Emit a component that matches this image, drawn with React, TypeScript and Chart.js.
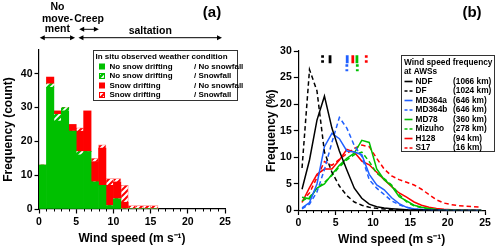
import React, { useEffect, useRef } from 'react';
import { Chart, registerables } from 'chart.js';

Chart.register(...registerables);

const FONT = '"Liberation Sans", Arial, Helvetica, sans-serif';
const GREEN = '#00c000';
const RED = '#ff0000';
const BLUE = '#2060ff';
const BLACK = '#000000';

// ---------- Panel (a): histogram of wind speed (count) ----------
const binCenters = [0.5, 1.5, 2.5, 3.5, 4.5, 5.5, 6.5, 7.5, 8.5, 9.5, 10.5, 11.5, 12.5, 13.5, 14.5, 15.5];
const noDriftNoSnow = [13, 36, 26, 29, 23, 16, 17, 8, 7, 1, 3, 0, 0, 0, 0, 0];
const noDriftSnow = [0, 1, 2, 1, 0, 1, 0, 0, 0, 0, 0, 0, 0, 0, 0, 0];
const driftNoSnow = [0, 2, 1, 0, 2, 6, 12, 6, 11, 6, 5, 2, 0, 0, 0, 0];
const driftSnow = [0, 0, 0, 0, 0, 1, 0, 1, 1, 2, 1, 5, 1, 1, 1, 1];
const histLegendTitle = 'In situ observed weather condition';
const histLegendLeft = ['No snow drifting', 'No snow drifting', 'Snow drifting', 'Snow drifting'];
const histLegendRight = ['/ No snowfall', '/ Snowfall', '/ No snowfall', '/ Snowfall'];
const regimeLabels = [['No', 'move-', 'ment'], ['Creep'], ['saltation']];
const regimeFrom = [0.1, 5.4, 5.3];
const regimeTo = [4.85, 8.05, 24.6];

// ---------- Panel (b): wind speed frequency at AWSs (%) ----------
const windSpeeds = [0.5, 1.5, 2.5, 3.5, 4.5, 5.5, 6.5, 7.5, 8.5, 9.5, 10.5, 11.5, 12.5, 13.5, 14.5, 15.5, 16.5, 17.5, 18.5, 19.5, 20.5, 21.5, 22.5, 23.5, 24.5];
const freqNDF = [4, 9.5, 17, 21.5, 15.5, 11.2, 7.6, 4.2, 2.3, 1.2, 0.7, 0.45, 0.35, 0.25, 0.15, 0.1, 0.1, 0.05, 0.05, 0, 0, 0, 0, 0, 0];
const freqDF = [8, 26.5, 22.5, 11, 7.2, 4.6, 2.8, 1.6, 1.0, 0.6, 0.4, 0.3, 0.2, 0.15, 0.1, 0.05, 0.05, 0, 0, 0, 0, 0, 0, 0, 0];
const freqMD364a = [0.5, 1.5, 5, 12, 14.5, 13.5, 11.2, 11, 10.5, 6.8, 4.8, 3.9, 2.4, 1.3, 0.6, 0.3, 0.2, 0.1, 0.05, 0.05, 0, 0, 0, 0, 0];
const freqMD364b = [0.3, 1.2, 3.5, 7.7, 12.8, 17.5, 15.5, 12.2, 10.2, 5.8, 4.2, 3.0, 1.8, 1.1, 0.6, 0.3, 0.2, 0.1, 0.05, 0, 0, 0, 0, 0, 0];
const freqMD78 = [2.5, 2.2, 4.2, 5, 6.8, 8.5, 9.8, 10.8, 13.2, 12.8, 7.8, 5.8, 4.6, 2.6, 1.8, 1.0, 0.6, 0.4, 0.2, 0.1, 0.05, 0.05, 0, 0, 0];
const freqMizuho = [1.8, 2.5, 4.2, 5.3, 6.6, 8.2, 9.5, 10.5, 11, 9.2, 7, 6, 4.8, 3, 1.6, 0.9, 0.5, 0.3, 0.15, 0.1, 0.05, 0, 0, 0, 0];
const freqH128 = [1.5, 4.3, 6.8, 7.8, 7.8, 9.5, 11.5, 11, 9.3, 8.6, 7.2, 5.8, 4.5, 3.3, 2.5, 1.6, 1.0, 0.6, 0.4, 0.25, 0.15, 0.1, 0.05, 0.05, 0];
const freqS17 = [1.7, 3.3, 6.2, 9.2, 8.5, 9.6, 10.7, 11.7, 12.3, 12, 9.8, 7.8, 6.5, 5.8, 5.3, 4.8, 4, 3, 2, 1.4, 1.1, 0.9, 0.8, 0.7, 0.6];
const stationNames = ['NDF', 'DF', 'MD364a', 'MD364b', 'MD78', 'Mizuho', 'H128', 'S17'];
const stationDistances = ['(1066 km)', '(1024 km)', '(646 km)', '(646 km)', '(360 km)', '(278 km)', '(94 km)', '(16 km)'];
const stationColors = [BLACK, BLACK, BLUE, BLUE, GREEN, GREEN, RED, RED];
const stationDashed = [false, true, false, true, false, true, false, true];
const stationMeans = [4.25, 3.25, 6.55, 6.5, 7.85, 7.9, 7.3, 9.1];
const markerRow = [0, 0, 0, 1, 0, 1, 0, 0];
const markerRowTop = [29.2, 27.5];
const markerRowBottom = [27.7, 26.2];
const windLegendTitle = ['Wind speed frequency', 'at AWSs'];

function makeHatch(bg: string, fg: string, lw: number) {
  const c = document.createElement('canvas');
  c.width = 6;
  c.height = 6;
  const g = c.getContext('2d') as CanvasRenderingContext2D;
  g.fillStyle = bg;
  g.fillRect(0, 0, 6, 6);
  g.strokeStyle = fg;
  g.lineWidth = lw;
  g.beginPath();
  g.moveTo(-1, 7); g.lineTo(7, -1);
  g.moveTo(-1, 1); g.lineTo(1, -1);
  g.moveTo(5, 7); g.lineTo(7, 5);
  g.stroke();
  return g.createPattern(c, 'repeat') as CanvasPattern;
}

function drawArrow(ctx: CanvasRenderingContext2D, x1: number, x2: number, y: number) {
  ctx.beginPath();
  ctx.moveTo(x1 + 3, y);
  ctx.lineTo(x2 - 3, y);
  ctx.stroke();
  ctx.beginPath();
  ctx.moveTo(x1, y); ctx.lineTo(x1 + 5, y - 2.5); ctx.lineTo(x1 + 5, y + 2.5); ctx.closePath();
  ctx.fill();
  ctx.beginPath();
  ctx.moveTo(x2, y); ctx.lineTo(x2 - 5, y - 2.5); ctx.lineTo(x2 - 5, y + 2.5); ctx.closePath();
  ctx.fill();
}

function drawMinorTicks(chart: any) {
  const { ctx, scales, chartArea } = chart;
  const x = scales.x;
  ctx.save();
  ctx.strokeStyle = BLACK;
  ctx.lineWidth = 1;
  for (let v = 1; v < 25; v++) {
    if (v % 5 === 0) continue;
    const px = Math.round(x.getPixelForValue(v)) + 0.5;
    ctx.beginPath();
    ctx.moveTo(px, chartArea.bottom);
    ctx.lineTo(px, chartArea.bottom + 2.5);
    ctx.stroke();
  }
  ctx.restore();
}

const tickFont = { family: FONT, size: 10.5, weight: 'bold' as const };
const titleFont = { family: FONT, size: 12, weight: 'bold' as const };

function axisCommon() {
  return {
    grid: { drawOnChartArea: false, drawTicks: true, tickLength: 4.5, color: BLACK, tickWidth: 1.2, offset: false },
    border: { display: true, color: BLACK, width: 1.2 },
  };
}

export default function App() {
  const refA = useRef<HTMLCanvasElement>(null);
  const refB = useRef<HTMLCanvasElement>(null);

  useEffect(() => {
    document.body.style.margin = '0';
    const greenHatch = makeHatch(GREEN, '#ffffff', 1.8);
    const redHatch = makeHatch('#ffffff', RED, 2);

    const pluginA = {
      id: 'panelA',
      afterDraw(chart: any) {
        drawMinorTicks(chart);
        const { ctx, scales } = chart;
        const x = scales.x;
        ctx.save();
        ctx.fillStyle = BLACK;
        ctx.strokeStyle = BLACK;
        ctx.lineWidth = 1;
        ctx.textBaseline = 'middle';
        ctx.textAlign = 'center';
        // regime annotations
        const textYs = [[7.5, 19, 29.5], [19.5], [31]];
        const arrowYs = [37.7, 29.3, 37.7];
        ctx.font = `bold 10.5px ${FONT}`;
        regimeLabels.forEach((lines, i) => {
          const x1 = x.getPixelForValue(regimeFrom[i]);
          const x2 = x.getPixelForValue(regimeTo[i]);
          const cx = (x1 + x2) / 2;
          lines.forEach((t, j) => ctx.fillText(t, cx, textYs[i][j]));
          drawArrow(ctx, x1, x2, arrowYs[i]);
        });
        // panel label
        ctx.font = `bold 15px ${FONT}`;
        ctx.fillText('(a)', 212, 13);
        // legend
        ctx.lineWidth = 1;
        ctx.strokeStyle = '#333';
        ctx.fillStyle = '#ffffff';
        ctx.fillRect(93.5, 50.5, 144, 50);
        ctx.strokeRect(93.5, 50.5, 144, 50);
        ctx.fillStyle = BLACK;
        ctx.textAlign = 'left';
        ctx.font = `bold 8px ${FONT}`;
        ctx.fillText(histLegendTitle, 95.5, 57);
        const fills = [GREEN, greenHatch, RED, redHatch];
        const borders = [GREEN, GREEN, RED, RED];
        histLegendLeft.forEach((t, i) => {
          const ey = 66.5 + i * 9.5;
          ctx.fillStyle = fills[i];
          ctx.fillRect(99.5, ey - 2.5, 5, 5);
          ctx.strokeStyle = borders[i];
          ctx.strokeRect(99.5, ey - 2.5, 5, 5);
          ctx.fillStyle = BLACK;
          ctx.fillText(t, 109.5, ey);
          ctx.fillText(histLegendRight[i], 194, ey);
        });
        ctx.restore();
      },
    };

    const mk = (vals: number[]) => binCenters.map((xv, i) => ({ x: xv, y: vals[i] }));
    const chartA = new Chart(refA.current as HTMLCanvasElement, {
      type: 'bar',
      data: {
        datasets: [
          { label: 'No snow drifting / No snowfall', data: mk(noDriftNoSnow), backgroundColor: GREEN, borderWidth: 0 },
          { label: 'No snow drifting / Snowfall', data: mk(noDriftSnow), backgroundColor: greenHatch, borderWidth: 0 },
          { label: 'Snow drifting / No snowfall', data: mk(driftNoSnow), backgroundColor: RED, borderWidth: 0 },
          { label: 'Snow drifting / Snowfall', data: mk(driftSnow), backgroundColor: redHatch, borderColor: '#ff8080', borderWidth: 0.8 },
        ],
      } as any,
      options: {
        animation: false,
        responsive: false,
        devicePixelRatio: 1,
        layout: { padding: { top: 50, right: 25, left: 0, bottom: 0 } },
        plugins: { legend: { display: false }, tooltip: { enabled: false } },
        datasets: { bar: { barPercentage: 1, categoryPercentage: 1 } },
        scales: {
          x: {
            type: 'linear', min: 0, max: 25, stacked: true, offset: false,
            ticks: { stepSize: 5, font: tickFont, color: BLACK, padding: 2, maxRotation: 0 },
            ...axisCommon(),
            title: { display: true, text: 'Wind speed (m s⁻¹)', font: titleFont, color: BLACK, padding: { top: 0, bottom: 5.5 } },
            afterFit: (s: any) => { s.height = 42; },
          },
          y: {
            type: 'linear', min: 0, max: 47, stacked: true,
            ticks: { stepSize: 10, includeBounds: false, font: tickFont, color: BLACK, padding: 2 },
            ...axisCommon(),
            title: { display: true, text: 'Frequency (count)', font: titleFont, color: BLACK, padding: { top: 1, bottom: 0 } },
            afterFit: (s: any) => { s.width = 39; },
          },
        },
      } as any,
      plugins: [pluginA],
    });

    const pluginB = {
      id: 'panelB',
      afterDraw(chart: any) {
        drawMinorTicks(chart);
        const { ctx } = chart;
        ctx.save();
        ctx.fillStyle = BLACK;
        ctx.textBaseline = 'middle';
        ctx.textAlign = 'center';
        ctx.font = `bold 15px ${FONT}`;
        ctx.fillText('(b)', 222, 13);
        ctx.lineWidth = 1;
        ctx.strokeStyle = '#333';
        ctx.fillStyle = '#ffffff';
        ctx.fillRect(151.5, 55.5, 93, 96);
        ctx.strokeRect(151.5, 55.5, 93, 96);
        ctx.fillStyle = BLACK;
        ctx.textAlign = 'left';
        ctx.font = `bold 8.3px ${FONT}`;
        windLegendTitle.forEach((t, i) => ctx.fillText(t, 154, 62.5 + i * 9.3));
        stationNames.forEach((n, i) => {
          const ey = 81.5 + i * 9.5;
          ctx.strokeStyle = stationColors[i];
          ctx.lineWidth = 1.6;
          ctx.setLineDash(stationDashed[i] ? [3, 2] : []);
          ctx.beginPath();
          ctx.moveTo(154.5, ey);
          ctx.lineTo(162.5, ey);
          ctx.stroke();
          ctx.setLineDash([]);
          ctx.fillStyle = BLACK;
          ctx.fillText(n, 165.5, ey);
          ctx.fillText(stationDistances[i], 203, ey);
        });
        ctx.restore();
      },
    };

    const series = [freqNDF, freqDF, freqMD364a, freqMD364b, freqMD78, freqMizuho, freqH128, freqS17];
    const lineSets = series.map((vals, i) => ({
      label: stationNames[i],
      data: windSpeeds.map((xv, j) => ({ x: xv, y: vals[j] })),
      borderColor: stationColors[i],
      borderWidth: 1.5,
      borderDash: stationDashed[i] ? [4.5, 3] : [],
      pointRadius: 0,
      tension: 0,
      fill: false,
    }));
    const markerSets = stationMeans.map((m, i) => ({
      label: stationNames[i] + ' mean',
      data: [
        { x: m, y: markerRowTop[markerRow[i]] },
        { x: m, y: markerRowBottom[markerRow[i]] },
      ],
      borderColor: stationColors[i],
      borderWidth: 2.8,
      borderDash: stationDashed[i] ? [2.5, 2.5] : [],
      borderCapStyle: 'butt',
      pointRadius: 0,
      fill: false,
    }));

    const chartB = new Chart(refB.current as HTMLCanvasElement, {
      type: 'line',
      data: { datasets: [...lineSets, ...markerSets] } as any,
      options: {
        animation: false,
        responsive: false,
        devicePixelRatio: 1,
        layout: { padding: { top: 51, right: 15, left: 0, bottom: 0 } },
        plugins: { legend: { display: false }, tooltip: { enabled: false } },
        scales: {
          x: {
            type: 'linear', min: 0, max: 25,
            ticks: { stepSize: 5, font: tickFont, color: BLACK, padding: 2, maxRotation: 0 },
            ...axisCommon(),
            title: { display: true, text: 'Wind speed (m s⁻¹)', font: titleFont, color: BLACK, padding: { top: 0, bottom: 3.8 } },
            afterFit: (s: any) => { s.height = 40.5; },
          },
          y: {
            type: 'linear', min: 0, max: 30,
            ticks: { stepSize: 5, font: tickFont, color: BLACK, padding: 2 },
            ...axisCommon(),
            title: { display: true, text: 'Frequency (%)', font: titleFont, color: BLACK, padding: { top: 14.8, bottom: 0 } },
            afterFit: (s: any) => { s.width = 48.3; },
          },
        },
      } as any,
      plugins: [pluginB],
    });

    return () => {
      chartA.destroy();
      chartB.destroy();
    };
  }, []);

  return (
    <div style={{ display: 'flex', width: 500, height: 251, background: '#fff' }}>
      <canvas ref={refA} width={250} height={251} style={{ display: 'block', width: 250, height: 251 }} />
      <canvas ref={refB} width={250} height={251} style={{ display: 'block', width: 250, height: 251 }} />
    </div>
  );
}
